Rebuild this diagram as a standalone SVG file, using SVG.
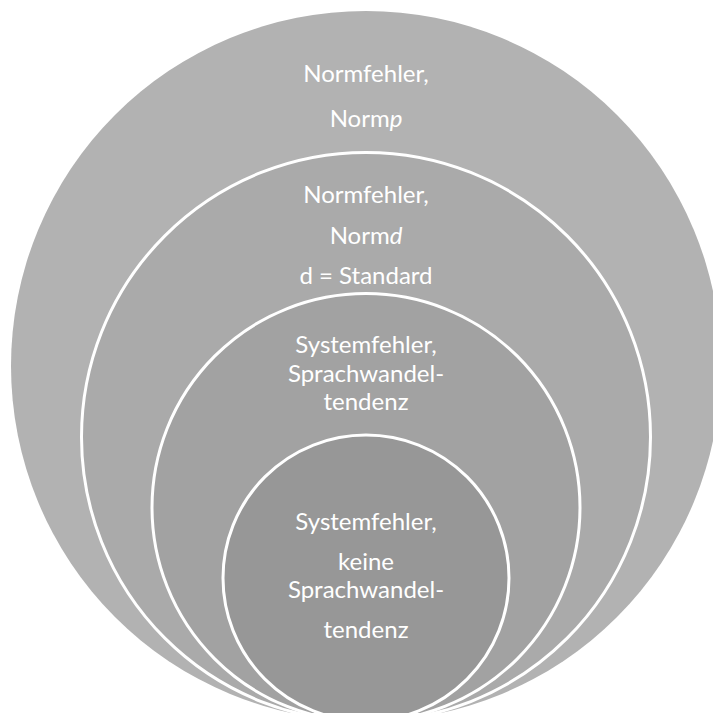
<svg xmlns="http://www.w3.org/2000/svg" width="713" height="713" viewBox="0 0 713 713">
<style>
.ring{stroke:#ffffff;stroke-width:3}
.t{font-family:Lato,"Liberation Sans",sans-serif;font-size:24px;fill:#ffffff;text-anchor:middle}
.i{font-style:italic}
</style>
<rect width="713" height="713" fill="#ffffff"/>
<g id="node1">
<circle cx="366" cy="366" r="355" fill="#b2b2b2"/>
<text class="t" x="366" y="82">Normfehler,</text>
<text class="t" x="366" y="127">Norm<tspan class="i">p</tspan></text>
</g>
<g id="node2">
<circle class="ring" cx="366" cy="437" r="284.5" fill="#aaaaaa"/>
<text class="t" x="366" y="203">Normfehler,</text>
<text class="t" x="366" y="244">Norm<tspan class="i">d</tspan></text>
<text class="t" x="366" y="284">d = Standard</text>
</g>
<g id="node3">
<circle class="ring" cx="366" cy="507.5" r="214" fill="#a2a2a2"/>
<text class="t" x="366" y="353">Systemfehler,</text>
<text class="t" x="366" y="382">Sprachwandel-</text>
<text class="t" x="366" y="410">tendenz</text>
</g>
<g id="node4">
<circle class="ring" cx="366" cy="578" r="143" fill="#979797"/>
<text class="t" x="366" y="530">Systemfehler,</text>
<text class="t" x="366" y="570">keine</text>
<text class="t" x="366" y="598">Sprachwandel-</text>
<text class="t" x="366" y="638">tendenz</text>
</g>
<g id="connectors"/>
</svg>
